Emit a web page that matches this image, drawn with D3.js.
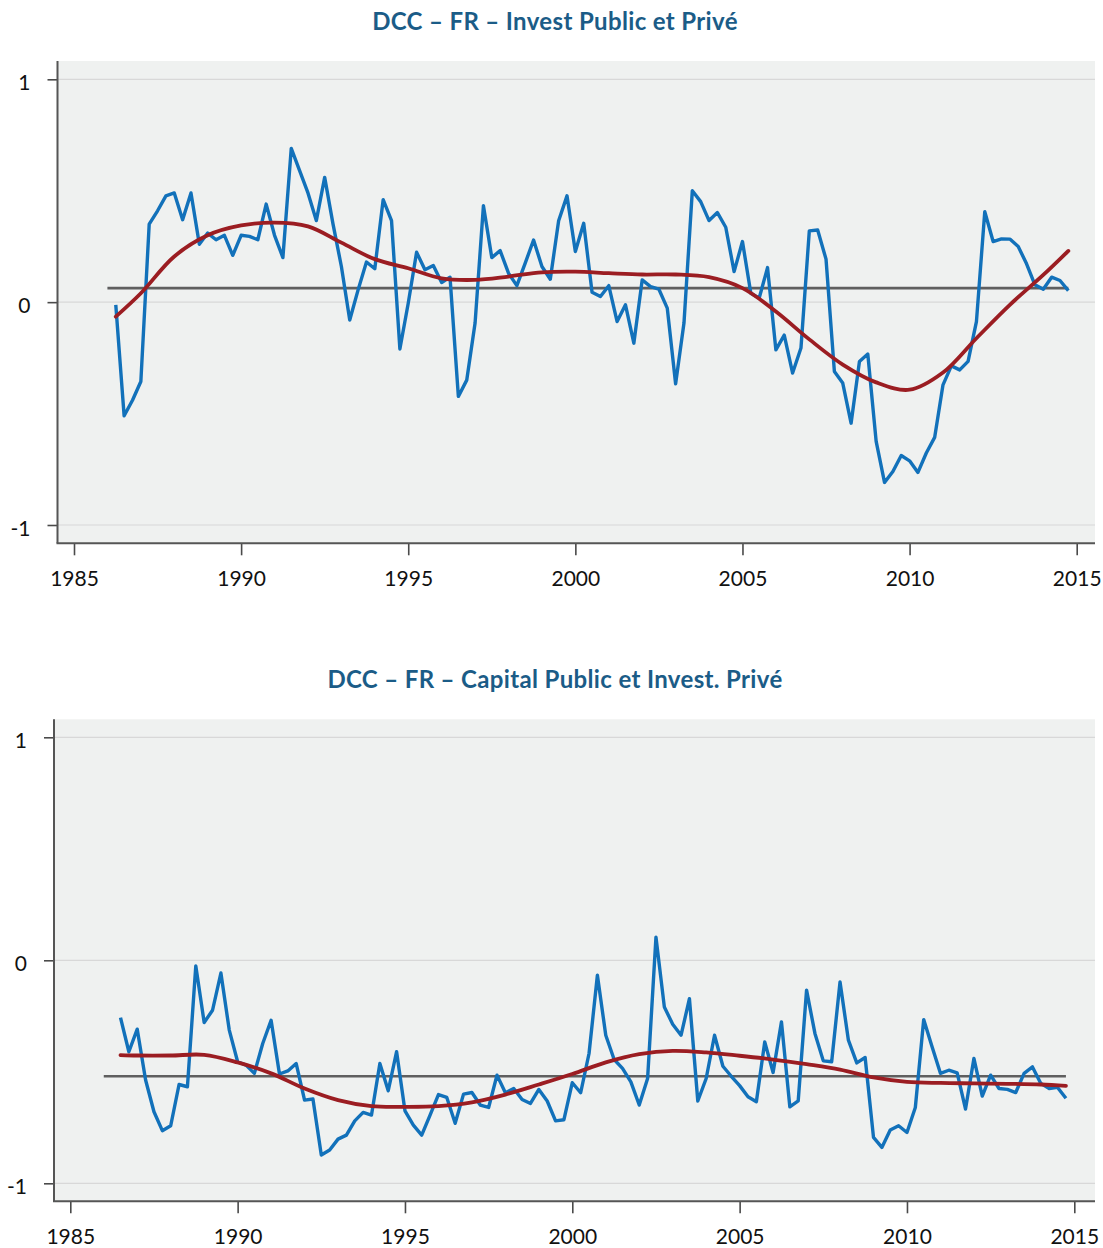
<!DOCTYPE html>
<html>
<head>
<meta charset="utf-8">
<script src="https://cdn.jsdelivr.net/npm/d3@7"></script>
<style>
  body { margin: 0; background: #fff; }
  svg { display: block; }
  text { font-family: Lato, "Open Sans", sans-serif; }
</style>
</head>
<body>
<div id="chart"></div>
<script>
// quarterly DCC, panel 1 starts 1986 Q2, panel 2 starts 1986 Q3
var investStart = 1986.25;
var investDcc = [
  -0.012, -0.51, -0.44, -0.356, 0.35, 0.41, 0.477, 0.49, 0.37, 0.49,
  0.26, 0.31, 0.28, 0.30, 0.21, 0.30, 0.295, 0.28, 0.44, 0.30,
  0.20, 0.69, 0.59, 0.49, 0.366, 0.56, 0.35, 0.16, -0.08, 0.055,
  0.18, 0.15, 0.46, 0.366, -0.21, -0.005, 0.224, 0.145, 0.164, 0.088,
  0.112, -0.423, -0.35, -0.094, 0.433, 0.2, 0.231, 0.13, 0.074, 0.175,
  0.279, 0.16, 0.103, 0.365, 0.477, 0.227, 0.354, 0.044, 0.025, 0.074,
  -0.087, -0.012, -0.184, 0.1, 0.07, 0.058, -0.027, -0.366, -0.094, 0.5,
  0.451, 0.366, 0.402, 0.336, 0.137, 0.272, 0.04, 0.018, 0.155, -0.214,
  -0.148, -0.318, -0.206, 0.32, 0.324, 0.193, -0.311, -0.363, -0.543, -0.266,
  -0.233, -0.625, -0.809, -0.76, -0.688, -0.712, -0.764, -0.677, -0.607, -0.371,
  -0.286, -0.304, -0.266, -0.087, 0.406, 0.272, 0.284, 0.283, 0.25, 0.172,
  0.078, 0.058, 0.112, 0.097, 0.052
];
var investTrendYears = [1986.25, 1987, 1988, 1989, 1990, 1991, 1992, 1993, 1994, 1995,
  1996, 1997, 1998, 1999, 2000, 2001, 2002, 2003, 2004, 2005,
  2006, 2007, 2008, 2009, 2010, 2011, 2012, 2013, 2014, 2014.75];
var investTrend = [-0.065, 0.04, 0.205, 0.30, 0.344, 0.357, 0.34, 0.267, 0.193, 0.152,
  0.107, 0.1, 0.115, 0.134, 0.137, 0.13, 0.124, 0.124, 0.112, 0.063,
  -0.042, -0.167, -0.28, -0.36, -0.393, -0.316, -0.162, -0.012, 0.122, 0.23];
var investMean = 0.063;

var capitalStart = 1986.5;
var capitalDcc = [
  -0.257, -0.41, -0.309, -0.537, -0.679, -0.764, -0.742, -0.557, -0.567, -0.025,
  -0.279, -0.224, -0.057, -0.313, -0.455, -0.47, -0.507, -0.373, -0.269, -0.51,
  -0.496, -0.463, -0.627, -0.622, -0.873, -0.851, -0.802, -0.784, -0.72, -0.682,
  -0.694, -0.463, -0.585, -0.41, -0.675, -0.739, -0.784, -0.694, -0.602, -0.615,
  -0.731, -0.6, -0.593, -0.649, -0.66, -0.515, -0.594, -0.575, -0.624, -0.642,
  -0.579, -0.631, -0.72, -0.715, -0.549, -0.594, -0.418, -0.067, -0.336, -0.445,
  -0.485, -0.545, -0.649, -0.53, 0.104, -0.209, -0.287, -0.336, -0.172, -0.631,
  -0.53, -0.336, -0.475, -0.52, -0.562, -0.612, -0.634, -0.366, -0.503, -0.276,
  -0.657, -0.63, -0.134, -0.328, -0.451, -0.455, -0.097, -0.358, -0.46, -0.436,
  -0.794, -0.839, -0.761, -0.742, -0.772, -0.66, -0.266, -0.388, -0.507, -0.493,
  -0.505, -0.667, -0.44, -0.609, -0.515, -0.575, -0.579, -0.593, -0.507, -0.478,
  -0.552, -0.575, -0.57, -0.619
];
var capitalTrendYears = [1986.5, 1987, 1988, 1989, 1990, 1991, 1992, 1993, 1994, 1995,
  1996, 1997, 1998, 1999, 2000, 2001, 2002, 2003, 2004, 2005,
  2006, 2007, 2008, 2009, 2010, 2011, 2012, 2013, 2014, 2014.75];
var capitalTrend = [-0.425, -0.427, -0.427, -0.424, -0.458, -0.507, -0.575, -0.627, -0.654, -0.657,
  -0.654, -0.637, -0.602, -0.557, -0.51, -0.458, -0.421, -0.406, -0.413, -0.428,
  -0.445, -0.466, -0.49, -0.525, -0.545, -0.55, -0.552, -0.554, -0.557, -0.563];
var capitalMean = -0.52;

var titles = ["DCC \u2013 FR \u2013 Invest Public et Priv\u00e9",
              "DCC \u2013 FR \u2013 Capital Public et Invest. Priv\u00e9"];
var xTicks = [1985, 1990, 1995, 2000, 2005, 2010, 2015];
var yTicks = [-1, 0, 1];
var meanFrom = 1986, meanTo = 2014.75;

var svgWidth = 1103, svgHeight = 1248;

var svg = d3.select("#chart").append("svg")
  .attr("width", svgWidth)
  .attr("height", svgHeight);

var panels = [
  { title: titles[0], start: investStart, dcc: investDcc, trendYears: investTrendYears, trend: investTrend, mean: investMean,
    left: 57.5, right: 1095, top: 61, bottom: 543.3, x0: 74, x1: 1076.7, yHi: 79.3, yLo: 525, titleY: 29.5 },
  { title: titles[1], start: capitalStart, dcc: capitalDcc, trendYears: capitalTrendYears, trend: capitalTrend, mean: capitalMean,
    left: 54, right: 1095, top: 719.3, bottom: 1201.3, x0: 70.3, x1: 1074.3, yHi: 737.3, yLo: 1183.3, titleY: 687.5 }
];

panels.forEach(function(p) {
  var x = d3.scaleLinear().domain([1985, 2015]).range([p.x0, p.x1]);
  var y = d3.scaleLinear().domain([-1, 1]).range([p.yLo, p.yHi]);

  var series = p.dcc.map(function(v, i) { return { t: p.start + i / 4, v: v }; });
  var trend = p.trend.map(function(v, i) { return { t: p.trendYears[i], v: v }; });

  svg.append("text")
    .attr("x", 555)
    .attr("y", p.titleY)
    .attr("text-anchor", "middle")
    .style("font-size", "24px")
    .style("font-weight", "bold")
    .style("letter-spacing", "0.35px")
    .style("fill", "#1b5c87")
    .text(p.title);

  svg.append("rect")
    .attr("x", p.left)
    .attr("y", p.top)
    .attr("width", p.right - p.left)
    .attr("height", p.bottom - p.top)
    .attr("fill", "#eff1f0");

  // horizontal grid
  svg.append("g").selectAll("line")
    .data(yTicks)
    .enter()
    .append("line")
    .attr("x1", p.left)
    .attr("x2", p.right)
    .attr("y1", d => y(d))
    .attr("y2", d => y(d))
    .attr("stroke", "#d8d8d8")
    .attr("stroke-width", 1.2);

  var bottomAxis = d3.axisBottom(x).tickValues(xTicks).tickFormat(d => String(d)).tickSize(12).tickPadding(16);
  var leftAxis = d3.axisLeft(y).tickValues(yTicks).tickFormat(d => String(d)).tickSize(10).tickPadding(17);

  var gx = svg.append("g")
    .attr("transform", `translate(0, ${p.bottom})`)
    .call(bottomAxis);
  var gy = svg.append("g")
    .attr("transform", `translate(${p.left}, 0)`)
    .call(leftAxis);

  [gx, gy].forEach(function(g) {
    g.select(".domain").remove();
    g.selectAll(".tick line").attr("stroke", "#4a4a4a").attr("stroke-width", 1.6);
    g.selectAll(".tick text").style("font-size", "21px").style("fill", "#111").attr("font-family", null);
  });
  gy.selectAll(".tick text").attr("dy", "0.5em");

  // axis lines
  svg.append("line")
    .attr("x1", p.left).attr("x2", p.left)
    .attr("y1", p.top).attr("y2", p.bottom)
    .attr("stroke", "#555").attr("stroke-width", 2);
  svg.append("line")
    .attr("x1", p.left - 1).attr("x2", p.right)
    .attr("y1", p.bottom).attr("y2", p.bottom)
    .attr("stroke", "#555").attr("stroke-width", 2);

  // mean line
  svg.append("line")
    .attr("x1", x(meanFrom)).attr("x2", x(meanTo))
    .attr("y1", y(p.mean)).attr("y2", y(p.mean))
    .attr("stroke", "#5f5f5f").attr("stroke-width", 2.6);

  var line = d3.line().x(d => x(d.t)).y(d => y(d.v));

  svg.append("path")
    .datum(series)
    .attr("d", line)
    .attr("fill", "none")
    .attr("stroke", "#1271ba")
    .attr("stroke-width", 3.4)
    .attr("stroke-linejoin", "round");

  svg.append("path")
    .datum(trend)
    .attr("d", line.curve(d3.curveCatmullRom))
    .attr("fill", "none")
    .attr("stroke", "#9b1d22")
    .attr("stroke-width", 3.8)
    .attr("stroke-linecap", "round");
});
</script>
</body>
</html>
